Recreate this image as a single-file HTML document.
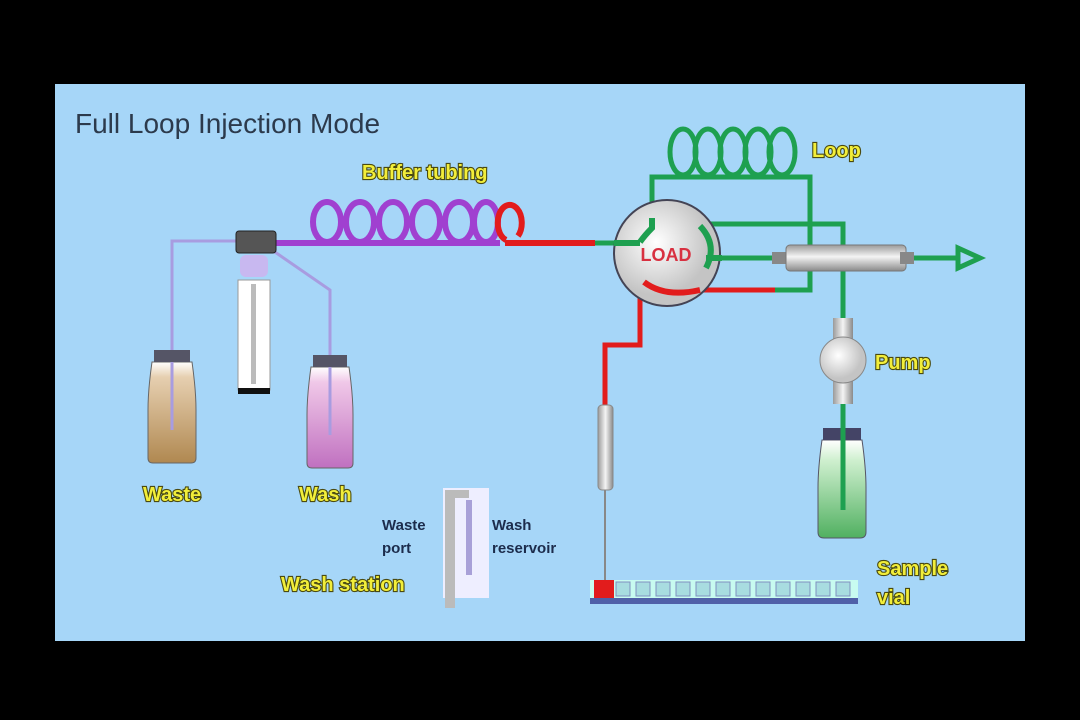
<!DOCTYPE html>
<html><head><meta charset="utf-8"><style>
html,body{margin:0;padding:0;background:#000;width:1080px;height:720px;overflow:hidden}
svg{display:block}
.y{font-family:"Liberation Sans",sans-serif;font-weight:bold;font-size:20px;fill:#f2ee3a;stroke:#4a4a10;stroke-width:2.2;paint-order:stroke}
.s{font-family:"Liberation Sans",sans-serif;font-weight:bold;font-size:15px;fill:#1c2c4c}
</style></head><body>
<svg width="1080" height="720" viewBox="0 0 1080 720">
<defs>
<linearGradient id="metal" x1="0" x2="1"><stop offset="0" stop-color="#9a9a9a"/><stop offset=".5" stop-color="#f4f4f4"/><stop offset="1" stop-color="#8a8a8a"/></linearGradient>
<linearGradient id="metalv" x1="0" y1="0" x2="0" y2="1"><stop offset="0" stop-color="#9a9a9a"/><stop offset=".45" stop-color="#f4f4f4"/><stop offset="1" stop-color="#8a8a8a"/></linearGradient>
<radialGradient id="ball" cx=".4" cy=".4"><stop offset="0" stop-color="#fff"/><stop offset="1" stop-color="#c4c4c4"/></radialGradient>
<linearGradient id="brown" y1="0" y2="1" x1="0" x2="0"><stop offset="0" stop-color="#fff"/><stop offset=".15" stop-color="#e6cfb0"/><stop offset="1" stop-color="#b08850"/></linearGradient>
<linearGradient id="pink" y1="0" y2="1" x1="0" x2="0"><stop offset="0" stop-color="#fff"/><stop offset=".15" stop-color="#f0c8e8"/><stop offset="1" stop-color="#c070c0"/></linearGradient>
<linearGradient id="green" y1="0" y2="1" x1="0" x2="0"><stop offset="0" stop-color="#fff"/><stop offset=".2" stop-color="#d0f0d0"/><stop offset="1" stop-color="#50b060"/></linearGradient>
</defs>
<rect x="55" y="84" width="970" height="557" fill="#a6d6f8"/>
<text x="75" y="133" font-family="Liberation Sans,sans-serif" font-size="28" fill="#2c3a4c">Full Loop Injection Mode</text>

<g fill="none" stroke="#a89ce0" stroke-width="3">
<path d="M240 241 H172 V430"/>
<path d="M272 250 L330 290 V430"/>
</g>
<g fill="none" stroke="#a040d0" stroke-width="6">
<path d="M275 243 H500"/>
<ellipse cx="327" cy="222" rx="14" ry="20"/><ellipse cx="360" cy="222" rx="14" ry="20"/><ellipse cx="393" cy="222" rx="14" ry="20"/><ellipse cx="426" cy="222" rx="14" ry="20"/><ellipse cx="459" cy="222" rx="14" ry="20"/><ellipse cx="486" cy="222" rx="12" ry="20"/>
</g>
<g fill="none" stroke="#e21c1c" stroke-width="6">
<path d="M518 236 A12 18 0 1 0 506 240"/>
<path d="M505 243 H595"/>
</g>
<rect x="236" y="231" width="40" height="22" rx="3" fill="#555" stroke="#222"/>
<rect x="240" y="255" width="28" height="22" rx="6" fill="#c8b8f0"/>
<rect x="238" y="280" width="32" height="110" fill="#fff" stroke="#999"/>
<rect x="251" y="284" width="5" height="100" fill="#bbb"/>
<rect x="238" y="388" width="32" height="6" fill="#111"/>
<g>
<path d="M152 362 Q148 390 148 410 V458 Q148 463 153 463 H191 Q196 463 196 458 V410 Q196 390 192 362Z" fill="url(#brown)" stroke="#666"/>
<rect x="154" y="350" width="36" height="12" fill="#556"/>
<path d="M311 367 Q307 395 307 415 V463 Q307 468 312 468 H348 Q353 468 353 463 V415 Q353 395 349 367Z" fill="url(#pink)" stroke="#666"/>
<rect x="313" y="355" width="34" height="12" fill="#556"/>
<path d="M822 440 Q818 468 818 488 V532 Q818 538 824 538 H860 Q866 538 866 532 V488 Q866 468 862 440Z" fill="url(#green)" stroke="#556"/>
<rect x="823" y="428" width="38" height="12" fill="#446"/>
</g>
<g stroke="#a89ce0" stroke-width="3"><path d="M172 362V430M330 367V435"/></g>

<g fill="none" stroke="#1ea050" stroke-width="5">
<ellipse cx="683" cy="152" rx="13" ry="23"/><ellipse cx="708" cy="152" rx="13" ry="23"/><ellipse cx="733" cy="152" rx="13" ry="23"/><ellipse cx="758" cy="152" rx="13" ry="23"/><ellipse cx="782" cy="152" rx="13" ry="23"/>
<path d="M652 220 V177 H810 V290 H775"/>
<path d="M706 224 H843 V320"/>
<path d="M843 400 V510"/>
<path d="M712 258 H780"/>
<path d="M905 258 H958"/>
<path d="M958 248 L980 258 L958 268Z"/>
<path d="M595 243 H615"/>
</g>
<g fill="none" stroke="#e21c1c" stroke-width="5">
<path d="M775 290 H700 M640 292 V345 H605 V405"/>
</g>
<circle cx="667" cy="253" r="53" fill="url(#ball)" stroke="#445" stroke-width="2"/>
<g fill="none" stroke="#1ea050" stroke-width="6">
<path d="M652 218 V228 Q645 235 640 242"/>
<path d="M700 226 Q718 245 706 268"/>
<path d="M614 243 H640"/>
<path d="M706 258 H722"/>
</g>
<path d="M644 282 Q665 298 700 290" fill="none" stroke="#e21c1c" stroke-width="6"/>
<text x="666" y="261" text-anchor="middle" font-family="Liberation Sans,sans-serif" font-size="18" font-weight="bold" fill="#d83040">LOAD</text>
<rect x="772" y="252" width="14" height="12" fill="#888"/>
<rect x="786" y="245" width="120" height="26" rx="4" fill="url(#metalv)" stroke="#777"/>
<rect x="900" y="252" width="14" height="12" fill="#888"/>
<rect x="833" y="318" width="20" height="22" fill="url(#metal)"/>
<rect x="833" y="380" width="20" height="24" fill="url(#metal)"/>
<circle cx="843" cy="360" r="23" fill="url(#ball)" stroke="#888"/>
<rect x="598" y="405" width="15" height="85" rx="4" fill="url(#metal)" stroke="#888"/>
<line x1="605" y1="490" x2="605" y2="580" stroke="#888" stroke-width="2"/>
<rect x="590" y="598" width="268" height="6" fill="#5060a8"/>
<rect x="590" y="580" width="268" height="18" fill="#cfe" opacity=".9"/>
<g fill="#a8dce0" stroke="#8090c0"><rect x="616" y="582" width="14" height="14"/><rect x="636" y="582" width="14" height="14"/><rect x="656" y="582" width="14" height="14"/><rect x="676" y="582" width="14" height="14"/><rect x="696" y="582" width="14" height="14"/><rect x="716" y="582" width="14" height="14"/><rect x="736" y="582" width="14" height="14"/><rect x="756" y="582" width="14" height="14"/><rect x="776" y="582" width="14" height="14"/><rect x="796" y="582" width="14" height="14"/><rect x="816" y="582" width="14" height="14"/><rect x="836" y="582" width="14" height="14"/></g>
<rect x="594" y="580" width="20" height="18" fill="#e21c1c"/>
<rect x="443" y="488" width="46" height="110" fill="#eef"/>
<rect x="445" y="490" width="10" height="118" fill="#bbb"/>
<rect x="455" y="490" width="14" height="8" fill="#bbb"/>
<rect x="466" y="500" width="6" height="75" fill="#a8a0d8"/>
<text class="y" x="362" y="179">Buffer tubing</text>
<text class="y" x="812" y="157">Loop</text>
<text class="y" x="875" y="369">Pump</text>
<text class="y" x="143" y="501">Waste</text>
<text class="y" x="299" y="501">Wash</text>
<text class="y" x="281" y="591">Wash station</text>
<text class="y" x="877" y="575">Sample</text>
<text class="y" x="877" y="604">vial</text>
<text class="s" x="382" y="530">Waste</text>
<text class="s" x="382" y="553">port</text>
<text class="s" x="492" y="530">Wash</text>
<text class="s" x="492" y="553">reservoir</text>
</svg>
</body></html>
